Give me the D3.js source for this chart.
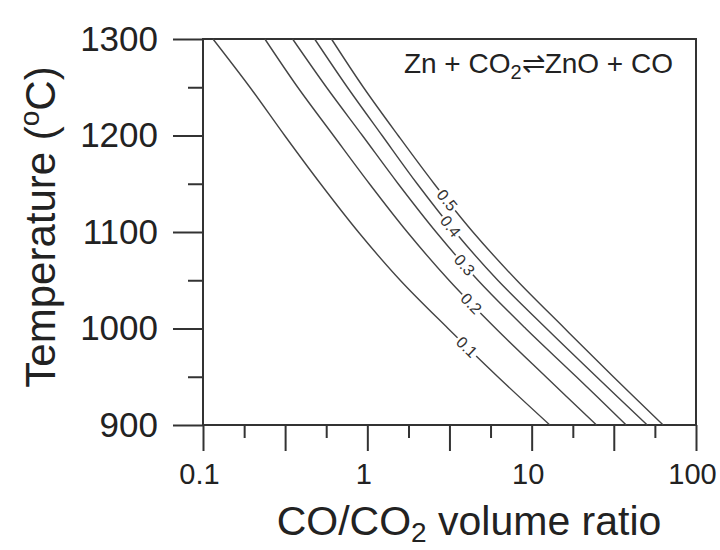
<!DOCTYPE html>
<html>
<head>
<meta charset="utf-8">
<script src="https://cdn.jsdelivr.net/npm/d3@7"></script>
<style>
	body { margin: 0; background: #fff; }
	svg { display: block; font-family: 'Liberation Sans', Arial, Helvetica, sans-serif; }
	.axis text { fill: #222; }
	.axis line { stroke: #333; stroke-width: 2; }
	.axis .domain { display: none; }
</style>
</head>
<body>
<div class="chart"></div>
<script>
const temps = [1300, 1250, 1200, 1150, 1100, 1050, 1000, 950, 900]
const ratio01 = [0.115, 0.193, 0.314, 0.519, 0.882, 1.585, 3.10, 6.22, 12.9]
const ratio02 = [0.238, 0.377, 0.622, 1.03, 1.75, 3.14, 6.05, 12.2, 24.8]
const ratio03 = [0.351, 0.564, 0.933, 1.54, 2.62, 4.71, 9.19, 18.7, 37.6]
const ratio04 = [0.478, 0.756, 1.23, 2.01, 3.42, 6.22, 12.3, 24.8, 50.5]
const ratio05 = [0.605, 0.946, 1.54, 2.55, 4.39, 8.11, 15.9, 31.4, 63.1]
const seriesNames = ['0.1', '0.2', '0.3', '0.4', '0.5']
const labelTemps = [981, 1026, 1066, 1106, 1133]

const yMajorTicks = [900, 1000, 1100, 1200, 1300]
const yMinorTicks = [950, 1050, 1150, 1250]
const xMajorTicks = [0.1, 0.316, 1, 3.16, 10, 31.6, 100]
const xMinorTicks = [0.178, 0.562, 1.78, 5.62, 17.8, 56.2]
const xTickLabels = { 0.1: '0.1', 1: '1', 10: '10', 100: '100' }

const width = 720
const height = 550
const plot = { left: 203, right: 696, top: 39, bottom: 425 }

const series = [ratio01, ratio02, ratio03, ratio04, ratio05].map((vals, i) => ({
	name: seriesNames[i],
	labelT: labelTemps[i],
	points: vals.map((v, j) => ({ v, t: temps[j] })),
}))

const svg = d3.select('.chart').append('svg')
	.attr('width', width)
	.attr('height', height)

const x = d3.scaleLog().domain([0.1, 100]).range([plot.left, plot.right])
const y = d3.scaleLinear().domain([900, 1300]).range([plot.bottom, plot.top])

// ticks
svg.append('g')
	.attr('class', 'axis axis--y')
	.attr('transform', `translate(${plot.left},0)`)
	.call(d3.axisLeft(y).tickValues(yMajorTicks).tickSize(30).tickPadding(15).tickFormat(d3.format('d')))
	.selectAll('text')
		.attr('font-size', 35)

svg.append('g')
	.attr('class', 'axis axis--y-minor')
	.attr('transform', `translate(${plot.left},0)`)
	.call(d3.axisLeft(y).tickValues(yMinorTicks).tickSize(15).tickFormat(''))

svg.append('g')
	.attr('class', 'axis axis--x')
	.attr('transform', `translate(0,${plot.bottom})`)
	.call(d3.axisBottom(x).tickValues(xMajorTicks).tickSize(26).tickPadding(12)
		.tickFormat(d => xTickLabels[d] || ''))
	.selectAll('text')
		.attr('font-size', 29)
		.attr('dx', -4)

svg.append('g')
	.attr('class', 'axis axis--x-minor')
	.attr('transform', `translate(0,${plot.bottom})`)
	.call(d3.axisBottom(x).tickValues(xMinorTicks).tickSize(13).tickFormat(''))

// frame
svg.append('rect')
	.attr('x', plot.left)
	.attr('y', plot.top)
	.attr('width', plot.right - plot.left)
	.attr('height', plot.bottom - plot.top)
	.attr('fill', 'none')
	.attr('stroke', '#333')
	.attr('stroke-width', 2)

// curves
const line = d3.line()
	.x(d => x(d.v))
	.y(d => y(d.t))
	.curve(d3.curveCatmullRom)

svg.append('g')
	.selectAll('path')
	.data(series)
	.enter().append('path')
		.attr('d', d => line(d.points))
		.attr('fill', 'none')
		.attr('stroke', '#444')
		.attr('stroke-width', 1.4)

// curve labels
const labels = svg.append('g')
	.selectAll('g')
	.data(series)
	.enter().append('g')
		.attr('transform', d => {
			const p = d.points
			let i = p.findIndex((q, j) => j < p.length - 1 && q.t >= d.labelT && p[j + 1].t <= d.labelT)
			const a = p[i], b = p[i + 1]
			const f = (a.t - d.labelT) / (a.t - b.t)
			const x0 = x(a.v), x1 = x(b.v)
			const px = x0 + (x1 - x0) * f
			const py = y(d.labelT)
			const ang = Math.atan2(y(b.t) - y(a.t), x1 - x0) * 180 / Math.PI
			return `translate(${px},${py}) rotate(${ang})`
		})

labels.append('rect')
	.attr('x', -13)
	.attr('y', -6)
	.attr('width', 26)
	.attr('height', 12)
	.attr('fill', '#fff')

labels.append('text')
	.attr('text-anchor', 'middle')
	.attr('dy', '0.36em')
	.attr('font-size', 16)
	.attr('fill', '#333')
	.text(d => d.name)

// reaction note
const note = svg.append('text')
	.attr('x', 673)
	.attr('y', 73)
	.attr('text-anchor', 'end')
	.attr('font-size', 28)
	.attr('fill', '#222')
note.append('tspan').text('Zn + CO')
note.append('tspan').attr('font-size', 20).attr('dy', 6).text('2')
note.append('tspan').attr('dy', -6).text('\u21CCZnO + CO')

// axis titles
const yTitle = svg.append('text')
	.attr('transform', `translate(55,227) rotate(-90)`)
	.attr('text-anchor', 'middle')
	.attr('font-size', 42)
	.attr('fill', '#222')
yTitle.append('tspan').text('Temperature (')
yTitle.append('tspan').attr('font-size', 28).attr('dy', -16).text('o')
yTitle.append('tspan').attr('dy', 16).text('C)')

const xTitle = svg.append('text')
	.attr('x', 469)
	.attr('y', 535)
	.attr('text-anchor', 'middle')
	.attr('font-size', 41)
	.attr('fill', '#222')
xTitle.append('tspan').text('CO/CO')
xTitle.append('tspan').attr('font-size', 28).attr('dy', 7).text('2')
xTitle.append('tspan').attr('dy', -7).text(' volume ratio')
</script>
</body>
</html>
